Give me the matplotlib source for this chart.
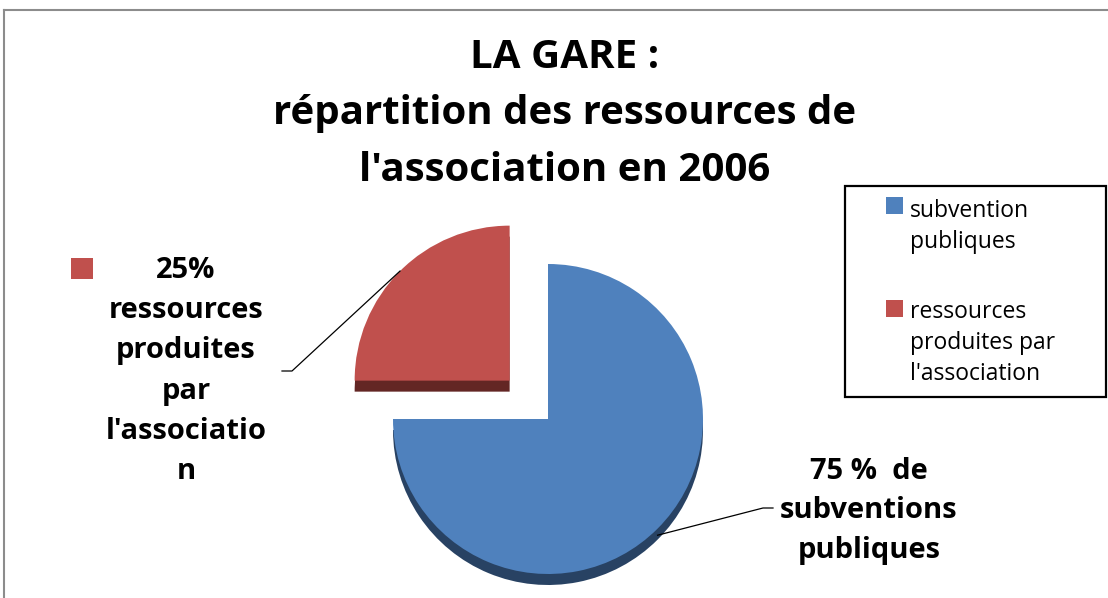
import matplotlib
matplotlib.use("Agg")
import matplotlib.pyplot as plt
from matplotlib.patches import Rectangle
import numpy as np

# ---- data ----
categories = ["subvention\npubliques", "ressources\nproduites par\nl'association"]
values = [75, 25]
slice_labels = ["75 %  de\nsubventions\npubliques",
                "25%\nressources\nproduites\npar\nl'associatio\nn"]
title = "LA GARE :\nrépartition des ressources de\nl'association en 2006"

colors = ["#4F81BD", "#C0504D"]
dark_colors = ["#284263", "#632624"]

W, H = 1108, 598
FONT = "Open Sans"

fig = plt.figure(figsize=(W / 100, H / 100), dpi=100)
fig.patch.set_facecolor("white")


def fx(x):
    return x / W


def fy(y):
    return 1 - y / H


# pie axes: 1 data unit = R pixels, pie centre at pixel (548, 419)
R = 155.0
cx, cy = 548.0, 419.0
ax = fig.add_axes([0, 0, 1, 1])
explode = [0, 0.35]
depth = 11.0 / R

ax.pie(values, colors=dark_colors, startangle=90, counterclock=False,
       explode=explode, center=(0, -depth), radius=1.0,
       wedgeprops=dict(linewidth=0))
wedges, _ = ax.pie(values, colors=colors, startangle=90, counterclock=False,
                   explode=explode, center=(0, 0), radius=1.0,
                   wedgeprops=dict(linewidth=0))
ax.set_aspect("auto")
ax.set_xlim(-cx / R, (W - cx) / R)
ax.set_ylim(-(H - cy) / R, cy / R)
ax.axis("off")


def px_to_data(x, y):
    return (x - cx) / R, (cy - y) / R


def bisector_point(w, r=1.0):
    th = np.deg2rad((w.theta1 + w.theta2) / 2)
    c = w.center
    return c[0] + r * np.cos(th), c[1] + r * np.sin(th)


# blue slice leader
bx, by = bisector_point(wedges[0], 1.0)
by -= depth * 0.6
p1 = px_to_data(763, 508)
p2 = px_to_data(773, 508)
ax.plot([bx, p1[0], p2[0]], [by, p1[1], p2[1]], color="black", lw=0.9)

# red slice leader
rx, ry = bisector_point(wedges[1], 1.0)
q1 = px_to_data(292, 371)
q2 = px_to_data(282, 371)
ax.plot([rx, q1[0], q2[0]], [ry, q1[1], q2[1]], color="black", lw=0.9)

# slice labels
fig.text(fx(869), fy(457), slice_labels[0], ha="center", va="top",
         fontsize=21, fontweight="bold", family=FONT, linespacing=1.47)
fig.text(fx(186), fy(256), slice_labels[1], ha="center", va="top",
         fontsize=21, fontweight="bold", family=FONT, linespacing=1.51)
fig.patches.append(Rectangle((fx(71), fy(279)), 22 / W, 21 / H,
                             transform=fig.transFigure, facecolor=colors[1],
                             edgecolor="none"))

# title
fig.text(fx(565), fy(38), title, ha="center", va="top",
         fontsize=29, fontweight="bold", family=FONT, linespacing=1.58)

# legend (manual box)
fig.patches.append(Rectangle((fx(845), fy(397)), (1106 - 845) / W, (397 - 186) / H,
                             transform=fig.transFigure, facecolor="white",
                             edgecolor="black", linewidth=1.6))
leg_sq = [197, 300]
leg_txt = [199, 300]
for i, (lab, col) in enumerate(zip(categories, colors)):
    fig.patches.append(Rectangle((fx(886), fy(leg_sq[i] + 17)), 17 / W, 17 / H,
                                 transform=fig.transFigure, facecolor=col,
                                 edgecolor="none"))
    fig.text(fx(910), fy(leg_txt[i]), lab, ha="left", va="top",
             fontsize=16.5, family=FONT, linespacing=1.4)

# outer frame lines (top and left)
fig.add_artist(plt.Line2D([fx(4), fx(W)], [fy(10), fy(10)],
                          transform=fig.transFigure, color="#8C8C8C", lw=1.5))
fig.add_artist(plt.Line2D([fx(4), fx(4)], [fy(10), fy(H)],
                          transform=fig.transFigure, color="#8C8C8C", lw=1.5))

fig.savefig("out.png", dpi=100, facecolor="white")
